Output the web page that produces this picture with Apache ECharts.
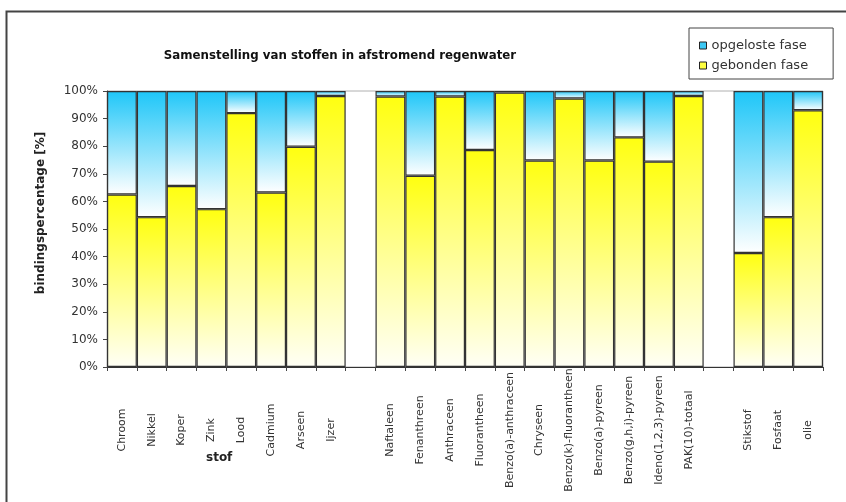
<!DOCTYPE html>
<html>
<head>
<meta charset="utf-8">
<script src="https://cdn.jsdelivr.net/npm/echarts@6/dist/echarts.min.js"></script>
<style>html,body{margin:0;padding:0;background:#fff}#c{width:846px;height:502px}</style>
</head>
<body>
<div id="c"></div>
<script>
const categories = ['Chroom','Nikkel','Koper','Zink','Lood','Cadmium','Arseen','Ijzer','','Naftaleen','Fenanthreen','Anthraceen','Fluorantheen','Benzo(a)-anthraceen','Chryseen','Benzo(k)-fluorantheen','Benzo(a)-pyreen','Benzo(g,h,i)-pyreen','Ideno(1,2,3)-pyreen','PAK(10)-totaal',' ','Stikstof','Fosfaat','olie'];
const gebonden = [62.5,54.3,65.6,57.2,92,63.2,79.8,98.2,null,98,69.3,98,78.6,99.4,74.8,97.3,74.8,83.2,74.4,98.2,null,41.3,54.3,93];
const opgeloste = [37.5,45.7,34.4,42.8,8,36.8,20.2,1.8,null,2,30.7,2,21.4,0.6,25.2,2.7,25.2,16.8,25.6,1.8,null,58.7,45.7,7];
const titleText = 'Samenstelling van stoffen in afstromend regenwater';
const xName = 'stof';
const yName = 'bindingspercentage [%]';

const font = '"DejaVu Sans", sans-serif';
const chart = echarts.init(document.getElementById('c'));
const grad = (top, bottom) => new echarts.graphic.LinearGradient(0,0,0,1,[{offset:0,color:top},{offset:1,color:bottom}]);
chart.setOption({
  backgroundColor:'#fff',
  animation:false,
  title:{text:titleText,left:335,top:45,textAlign:'center',textStyle:{fontFamily:font,fontSize:11.8,fontWeight:'bold',color:'#111'}},
  legend:{
    left:689, top:28, orient:'vertical', itemWidth:7, itemHeight:7, itemGap:7, icon:'rect',
    borderColor:'#444', borderWidth:1, backgroundColor:'#fff', padding:[11,25,7,10],
    textStyle:{fontFamily:font,fontSize:13,color:'#333'},
    data:[
      {name:'opgeloste fase', itemStyle:{color:'#3cc8f4',borderColor:'#222',borderWidth:1}},
      {name:'gebonden fase', itemStyle:{color:'#ffff40',borderColor:'#222',borderWidth:1}}
    ]
  },
  grid:{left:107,right:23,top:91,bottom:135,show:true,borderColor:'#b0b0b0',borderWidth:1},
  xAxis:{
    type:'category', data:categories, boundaryGap:true,
    axisLine:{lineStyle:{color:'#333',width:1}},
    axisTick:{show:true,alignWithLabel:false,length:4,lineStyle:{color:'#444'}},
    axisLabel:{interval:0,rotate:90,align:'center',verticalAlign:'middle',margin:63,width:300,overflow:'none',hideOverlap:false,fontFamily:font,fontSize:11,color:'#333'}
  },
  yAxis:{
    type:'value', min:0, max:100, interval:10,
    axisLine:{show:true,lineStyle:{color:'#333'}},
    axisTick:{show:true,length:4,lineStyle:{color:'#444'}},
    splitLine:{show:false},
    axisLabel:{formatter:'{value}%',margin:9,fontFamily:font,fontSize:12,color:'#333'}
  },
  series:[
    {name:'gebonden fase',type:'bar',stack:'a',barCategoryGap:'0%',data:gebonden,
     itemStyle:{color:grad('#ffff10','#fffff6'),borderColor:'#333',borderWidth:1.2}},
    {name:'opgeloste fase',type:'bar',stack:'a',barCategoryGap:'0%',data:opgeloste,
     itemStyle:{color:grad('#1ec6f8','#ffffff'),borderColor:'#333',borderWidth:1.2}}
  ],
  graphic:[
    {type:'rect',left:4,top:9,shape:{width:850,height:505},style:{fill:'none',stroke:'#444',lineWidth:2},silent:true},
    {type:'text',left:206,top:452,style:{text:xName,font:'bold 12px "DejaVu Sans", sans-serif',fill:'#222'}},
    {type:'text',x:41,y:213,rotation:Math.PI/2,style:{text:yName,align:'center',verticalAlign:'middle',font:'bold 12px "DejaVu Sans", sans-serif',fill:'#222'}}
  ]
});
</script>
</body>
</html>
